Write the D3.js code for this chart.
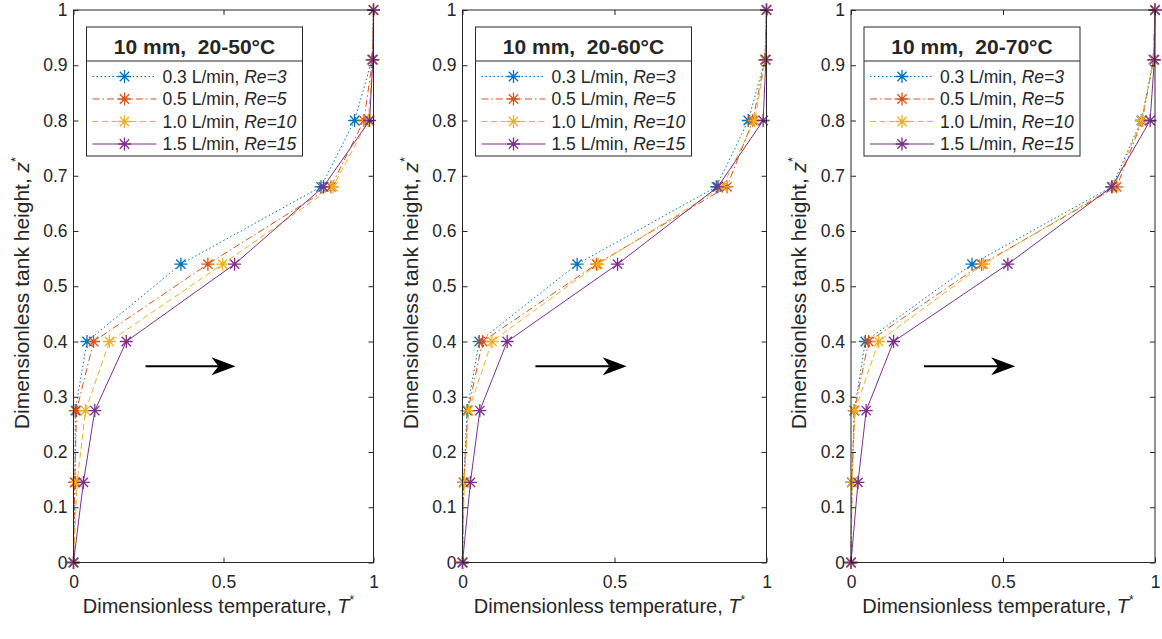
<!DOCTYPE html>
<html><head><meta charset="utf-8">
<script src="https://cdn.jsdelivr.net/npm/d3@7/dist/d3.min.js"></script>
<style>
body{margin:0;background:#fff}
svg{display:block}
text{font-family:"Liberation Sans",Arial,Helvetica,sans-serif;fill:#262626}
</style>
</head><body>
<svg id="chart" width="1162" height="639"></svg>
<script>
// ---------- data ----------
const heights = [0, 0.145, 0.275, 0.40, 0.54, 0.68, 0.80, 0.91, 1.0];
const panelTitles = ["10 mm,  20-50°C", "10 mm,  20-60°C", "10 mm,  20-70°C"];
const flowRates = ["0.3 L/min, ", "0.5 L/min, ", "1.0 L/min, ", "1.5 L/min, "];
const reynolds = ["Re=3", "Re=5", "Re=10", "Re=15"];
const xTicks = [0, 0.5, 1];
const xTickLabels = ["0", "0.5", "1"];
const yTicks = [0, 0.1, 0.2, 0.3, 0.4, 0.5, 0.6, 0.7, 0.8, 0.9, 1];
const yTickLabels = ["0", "0.1", "0.2", "0.3", "0.4", "0.5", "0.6", "0.7", "0.8", "0.9", "1"];
const arrowFrom = [0.24, 0.355];
const arrowTo = [0.54, 0.355];

// panel 1: 20-50 °C
const p1_q03 = [0, 0.005, 0.006, 0.045, 0.358, 0.825, 0.937, 0.995, 1];
const p1_q05 = [0, 0.004, 0.010, 0.067, 0.448, 0.858, 0.968, 0.997, 1];
const p1_q10 = [0, 0.012, 0.040, 0.120, 0.497, 0.865, 0.983, 0.997, 1];
const p1_q15 = [0, 0.033, 0.071, 0.176, 0.537, 0.833, 0.987, 0.998, 1];
// panel 2: 20-60 °C
const p2_q03 = [0, 0.004, 0.015, 0.055, 0.377, 0.835, 0.940, 0.995, 1];
const p2_q05 = [0, 0.004, 0.018, 0.066, 0.441, 0.870, 0.955, 0.995, 1];
const p2_q10 = [0, 0.006, 0.020, 0.097, 0.446, 0.855, 0.961, 0.996, 1];
const p2_q15 = [0, 0.026, 0.057, 0.147, 0.510, 0.840, 0.989, 0.998, 1];
// panel 3: 20-70 °C
const p3_q03 = [0, 0.003, 0.011, 0.047, 0.398, 0.858, 0.955, 0.995, 1];
const p3_q05 = [0, 0.003, 0.011, 0.058, 0.430, 0.874, 0.958, 0.995, 1];
const p3_q10 = [0, 0.004, 0.013, 0.091, 0.436, 0.865, 0.956, 0.996, 1];
const p3_q15 = [0, 0.023, 0.050, 0.140, 0.516, 0.858, 0.984, 0.998, 1];

// ---------- styles / layout ----------
const colors = ["#0072BD", "#D95319", "#EDB120", "#7E2F8E"];
const dashes = ["1.5,2.5", "7,3,1.5,3", "6,3.5", null];
const panels = [
  {title: panelTitles[0], left: 73.5, width: 300, series: [p1_q03, p1_q05, p1_q10, p1_q15]},
  {title: panelTitles[1], left: 462.5, width: 304, series: [p2_q03, p2_q05, p2_q10, p2_q15]},
  {title: panelTitles[2], left: 851, width: 304, series: [p3_q03, p3_q05, p3_q10, p3_q15]}
];
const plotTop = 10, plotBottom = 562.5;
const axisColor = "#262626";

const svg = d3.select("#chart");

function star(s) {
  const d = s * 0.72;
  return `M${-s},0L${s},0M0,${-s}L0,${s}M${-d},${-d}L${d},${d}M${-d},${d}L${d},${-d}`;
}

panels.forEach(p => {
  const h = plotBottom - plotTop;
  const x = d3.scaleLinear().domain([0, 1]).range([0, p.width]);
  const y = d3.scaleLinear().domain([0, 1]).range([h, 0]);
  const g = svg.append("g").attr("transform", `translate(${p.left},${plotTop})`);

  g.append("rect").attr("width", p.width).attr("height", h).attr("fill", "#fff");

  // data lines & markers
  p.series.forEach((vals, i) => {
    const pts = vals.map((v, k) => [v, heights[k]]);
    g.append("path")
      .attr("d", d3.line().x(d => x(d[0])).y(d => y(d[1]))(pts))
      .attr("fill", "none").attr("stroke", colors[i]).attr("stroke-width", 1)
      .attr("stroke-dasharray", dashes[i]);
    g.selectAll(null).data(pts).enter().append("path")
      .attr("d", star(6.5))
      .attr("transform", d => `translate(${x(d[0])},${y(d[1])})`)
      .attr("fill", "none").attr("stroke", colors[i]).attr("stroke-width", 1.3);
  });

  // axes (ticks inward)
  const fmtY = d => yTickLabels[yTicks.indexOf(d)];
  const fmtX = d => xTickLabels[xTicks.indexOf(d)];
  const styleAxis = a => {
    a.select(".domain").remove();
    a.selectAll("line").attr("stroke", axisColor);
    a.selectAll("text").attr("fill", axisColor).style("font-size", "17.5px")
      .style("font-family", '"Liberation Sans",Arial,sans-serif');
  };
  g.append("g").call(d3.axisLeft(y).tickValues(yTicks).tickFormat(fmtY).tickSize(-5).tickPadding(6)).call(styleAxis);
  g.append("g").attr("transform", `translate(${p.width},0)`)
    .call(d3.axisRight(y).tickValues(yTicks).tickFormat("").tickSize(-5)).call(styleAxis);
  g.append("g").attr("transform", `translate(0,${h})`)
    .call(d3.axisBottom(x).tickValues(xTicks).tickFormat(fmtX).tickSize(-5).tickPadding(13)).call(styleAxis);
  g.append("g").call(d3.axisTop(x).tickValues(xTicks).tickFormat("").tickSize(-5)).call(styleAxis);

  g.append("rect").attr("width", p.width).attr("height", h)
    .attr("fill", "none").attr("stroke", axisColor).attr("stroke-width", 1);

  // arrow annotation
  const ax0 = x(arrowFrom[0]), ay = y(arrowFrom[1]), ax1 = x(arrowTo[0]);
  g.append("line").attr("x1", ax0).attr("x2", ax1 - 12).attr("y1", ay).attr("y2", ay)
    .attr("stroke", "#000").attr("stroke-width", 2);
  g.append("path")
    .attr("d", `M${ax1},${ay}L${ax1 - 24},${ay - 9}L${ax1 - 17},${ay}L${ax1 - 24},${ay + 9}Z`)
    .attr("fill", "#000");

  // axis labels
  const xl = svg.append("text")
    .attr("x", p.left + p.width / 2 - 5).attr("y", 613)
    .attr("text-anchor", "middle").style("font-size", "20px");
  xl.append("tspan").text("Dimensionless temperature, ");
  xl.append("tspan").style("font-style", "italic").text("T");
  xl.append("tspan").attr("dy", -9).style("font-size", "12px").text("*");

  const yl = svg.append("text")
    .attr("transform", `translate(${p.left - 45},293) rotate(-90)`)
    .attr("text-anchor", "middle").style("font-size", "21px");
  yl.append("tspan").text("Dimensionless tank height, ");
  yl.append("tspan").style("font-style", "italic").text("z");
  yl.append("tspan").attr("dy", -9).style("font-size", "13px").text("*");

  // legend
  const lg = svg.append("g").attr("transform", `translate(${p.left + 13},27)`);
  lg.append("rect").attr("width", 216).attr("height", 129)
    .attr("fill", "#fff").attr("stroke", axisColor).attr("stroke-width", 1);
  lg.append("line").attr("x1", 0).attr("x2", 216).attr("y1", 34).attr("y2", 34)
    .attr("stroke", axisColor).attr("stroke-width", 1);
  lg.append("text").attr("x", 108).attr("y", 27).attr("text-anchor", "middle")
    .style("font-size", "21px").style("font-weight", "bold").style("white-space", "pre")
    .attr("fill", "#000").text(p.title);
  flowRates.forEach((fr, i) => {
    const ry = 49.5 + i * 22.5;
    lg.append("line").attr("x1", 6).attr("x2", 70).attr("y1", ry).attr("y2", ry)
      .attr("stroke", colors[i]).attr("stroke-width", 1).attr("stroke-dasharray", dashes[i]);
    lg.append("path").attr("d", star(6.5)).attr("transform", `translate(38,${ry})`)
      .attr("fill", "none").attr("stroke", colors[i]).attr("stroke-width", 1.3);
    const t = lg.append("text").attr("x", 76).attr("y", ry + 6.2).style("font-size", "17.5px")
      .style("white-space", "pre");
    t.append("tspan").text(fr);
    t.append("tspan").style("font-style", "italic").text(reynolds[i]);
  });
});
</script>
</body></html>
